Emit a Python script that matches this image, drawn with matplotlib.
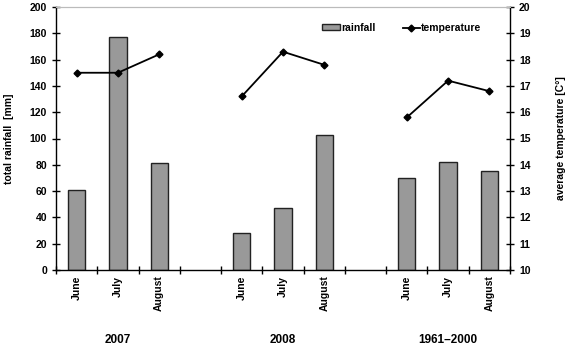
import numpy as np
import matplotlib.pyplot as plt

plt.rcParams['font.family'] = ['Liberation Sans', 'DejaVu Sans']
plt.rcParams['font.weight'] = 'bold'

months = ["June", "July", "August", "", "June", "July", "August", "", "June", "July", "August"]
groups = ["2007", "2008", "1961–2000"]
rainfall = [61, 177, 81, np.nan, 28, 47, 103, np.nan, 70, 82, 75]
temperature = [17.5, 17.5, 18.2, np.nan, 16.6, 18.3, 17.8, np.nan, 15.8, 17.2, 16.8]

x = np.arange(len(months))

fig = plt.figure(figsize=(5.7, 3.52), dpi=100)
ax = fig.add_axes([56 / 570, 1 - 270 / 352, 454 / 570, 263 / 352])
ax2 = ax.twinx()

ax.bar(x, rainfall, width=0.42, color='#999999', edgecolor='#222222', linewidth=1.0,
       label='rainfall', zorder=2)
ax2.plot(x, temperature, color='black', linewidth=1.3, marker='D', markersize=3.5,
         label='temperature', zorder=3)

ax.set_xlim(-0.5, len(months) - 0.5)
ax.set_ylim(0, 200)
ax.set_yticks(range(0, 201, 20))
ax2.set_ylim(10, 20)
ax2.set_yticks(range(10, 21))

ax.set_xticks(np.arange(-0.5, len(months) + 0.5, 1))
ax.set_xticklabels([])
ax.set_xticks(x, minor=True)
ax.set_xticklabels(months, minor=True, rotation=90, fontsize=7.5, fontweight='bold')
ax.tick_params(axis='x', which='major', direction='inout', length=6, width=1)
ax.tick_params(axis='x', which='minor', length=0, pad=4)
ax.tick_params(axis='y', direction='inout', length=6, width=1, labelsize=7.5)
ax2.tick_params(axis='y', direction='inout', length=6, width=1, labelsize=7.5)

for sp in ['left', 'bottom']:
    ax.spines[sp].set_linewidth(1)
ax2.spines['right'].set_linewidth(1)
ax2.spines['left'].set_visible(False)
ax2.spines['bottom'].set_visible(False)
ax.spines['right'].set_visible(False)
ax.spines['top'].set_color('#bbbbbb')
ax2.spines['top'].set_color('#bbbbbb')

for i, g in enumerate(groups):
    ax.text(1 + 4 * i, -0.265, g, transform=ax.get_xaxis_transform(),
            ha='center', va='center', fontsize=8.5, fontweight='bold')

ax.set_ylabel('total rainfall  [mm]', fontsize=7.5, fontweight='bold', labelpad=11)
ax2.set_ylabel('average temperature [C°]', fontsize=7.5, fontweight='bold', labelpad=18)

h1, l1 = ax.get_legend_handles_labels()
h2, l2 = ax2.get_legend_handles_labels()
ax2.legend(h1 + h2, l1 + l2, ncol=2, frameon=False, loc='upper left',
           bbox_to_anchor=(0.566, 0.975), fontsize=7.5, handlelength=1.7,
           handletextpad=0.1, columnspacing=2.6, handleheight=0.5)

fig.savefig('out.png', dpi=100)
